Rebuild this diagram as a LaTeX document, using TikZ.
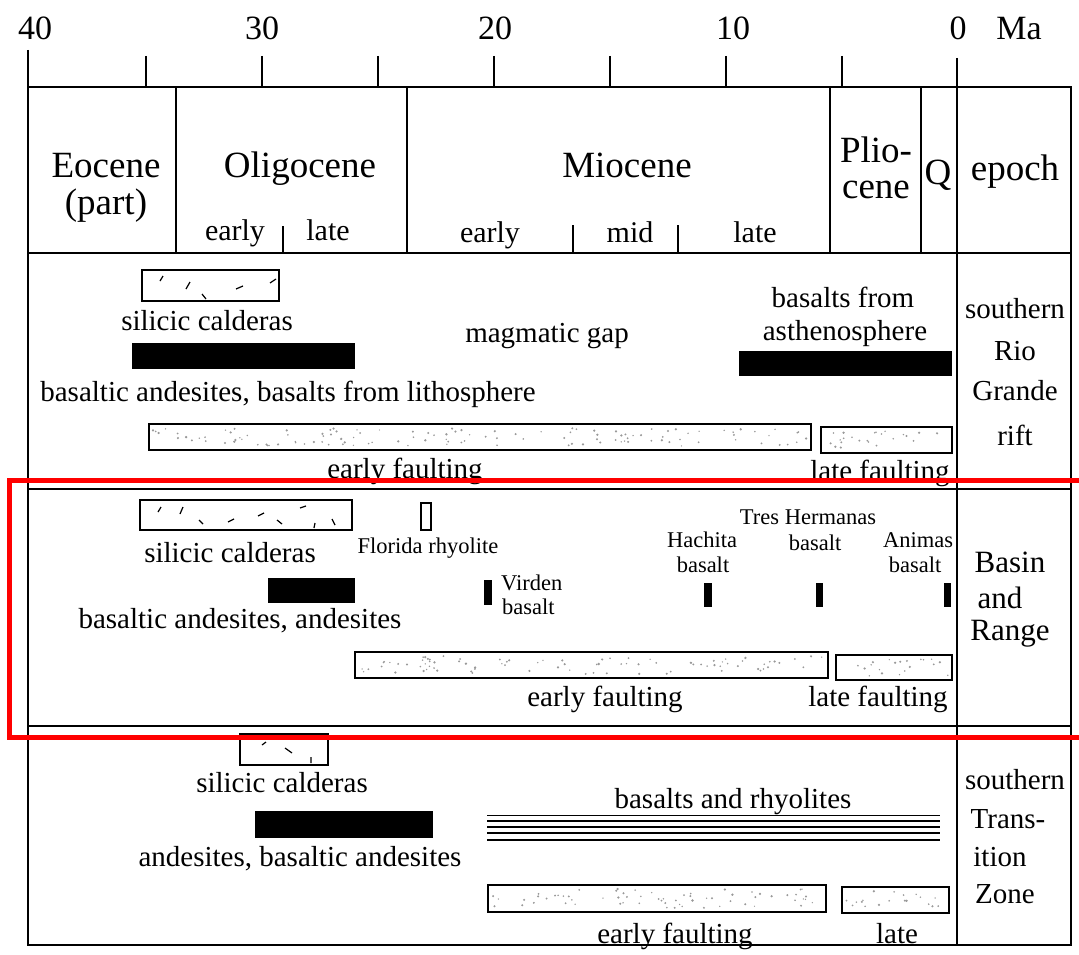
\documentclass[tikz,border=0pt]{standalone}
\usepackage{fontspec}
\setmainfont{Liberation Serif}
\newcommand\fsz[1]{\fontsize{#1}{#1}\selectfont}
\newcommand\stipplebox[4]{%
  \pgfmathtruncatemacro\ndots{((#3-#1)/10)*((#4-#2)/14)}%
  \foreach \k in {1,...,\ndots}{%
    \pgfmathsetmacro\xx{#1+4+rnd*(#3-#1-8)}%
    \pgfmathsetmacro\yy{#2+4+rnd*(#4-#2-8)}%
    \pgfmathsetmacro\rr{0.7+0.6*rnd}%
    \fill[black!40] (\xx,\yy) circle (\rr pt);
  }%
  \draw[outl] (#1,#2) rectangle (#3,#4);
}
\begin{document}
\begin{tikzpicture}[x=1pt,y=-1pt,
  frame/.style={line width=2.4pt},
  outl/.style={line width=2.2pt},
  tick/.style={line width=2.2pt},
  hatch/.style={line width=1.2pt},
  txt/.style={inner sep=0pt, anchor=base, font=\fsz{29}},
  small/.style={inner sep=0pt, anchor=base, font=\fsz{22.5}},
  axis/.style={inner sep=0pt, anchor=base, font=\fsz{34}},
  epo/.style={inner sep=0pt, anchor=base, font=\fsz{37}},
  sub/.style={inner sep=0pt, anchor=base, font=\fsz{30}}]
\useasboundingbox (0,0) rectangle (1079,955);
\pgfmathsetseed{7}

% ---------- axis ----------
\node[axis] (a40) at (35,40) {40};
\node[axis] (a30) at (262,40) {30};
\node[axis] (a20) at (495,40) {20};
\node[axis] (a10) at (733,40) {10};
\node[axis] (a0) at (958,40) {0};
\node[axis] (ama) at (1019,40) {Ma};
\foreach \x in {146,262,378,494,610,726,842}{\draw[tick] (\x,56) -- (\x,87);}

% ---------- frame ----------
\draw[frame] (28,50) -- (28,945) -- (1071,945) -- (1071,87) -- (28,87);
\draw[frame] (957,58) -- (957,945);
\draw[frame] (28,253) -- (1071,253);
\draw[frame] (28,489) -- (1071,489);
\draw[frame] (28,726) -- (1071,726);
\foreach \x in {176,407,830,921}{\draw[frame] (\x,87) -- (\x,253);}
\draw[tick] (283,226) -- (283,253);
\draw[tick] (573,225) -- (573,253);
\draw[tick] (678,225) -- (678,253);

% ---------- epoch row ----------
\node[epo] (eoc) at (106,177) {Eocene};
\node[epo] (eocp) at (106,214) {(part)};
\node[epo] (oli) at (300,177) {Oligocene};
\node[sub] (olie) at (235,240) {early};
\node[sub] (olil) at (328,240) {late};
\node[epo] (mio) at (627,177) {Miocene};
\node[sub] (mioe) at (490,242) {early};
\node[sub] (miom) at (630,242) {mid};
\node[sub] (miol) at (755,242) {late};
\node[epo] (pli1) at (876,162) {Plio-};
\node[epo] (pli2) at (876,198) {cene};
\node[epo] (qq) at (938,185) {Q};
\node[epo] (epoch) at (1015,180) {epoch};

% ---------- row 1: southern Rio Grande rift ----------
\draw[outl] (142,270) rectangle (279,301);
\draw[hatch] (160,281) -- ++(3,-5) (186,289) -- ++(4,-7) (202,294) -- ++(4,5)
  (236,289) -- ++(7,-3) (270,283) -- ++(6,-4);
\node[txt] (r1sc) at (207,330) {silicic calderas};
\fill (132,343) rectangle (355,369);
\node[txt] (r1ba) at (288,401) {basaltic andesites, basalts from lithosphere};
\node[txt] (r1gap) at (547,342) {magmatic gap};
\node[txt] (r1bf) at (843,307) {basalts from};
\node[txt] (r1as) at (845,340) {asthenosphere};
\fill (739,351) rectangle (952,376);
\stipplebox{149}{424}{811}{450}
\stipplebox{821}{427}{952}{453}
\node[txt] (r1ef) at (405,478) {early faulting};
\node[txt] (r1lf) at (880,480) {late faulting};
\node[txt] (r1n1) at (1015,318) {southern};
\node[txt] (r1n2) at (1015,360) {Rio};
\node[txt] (r1n3) at (1015,400) {Grande};
\node[txt] (r1n4) at (1015,445) {rift};

% ---------- row 2: Basin and Range ----------
\draw[outl] (140,500) rectangle (352,530);
\draw[hatch] (158,512) -- ++(3,-5) (180,514) -- ++(3,-7) (199,520) -- ++(4,4)
  (228,522) -- ++(6,-3) (258,516) -- ++(6,-3) (277,520) -- ++(5,4)
  (300,508) -- ++(6,-2) (314,528) -- ++(1,-5) (332,519) -- ++(3,6);
\draw[line width=2pt] (421,503) rectangle (431,530);
\node[txt] (r2sc) at (230,562) {silicic calderas};
\node[small] (r2fr) at (428,553) {Florida rhyolite};
\fill (268,578) rectangle (355,603);
\node[txt] (r2ba) at (240,628) {basaltic andesites, andesites};
\fill (484,580) rectangle (492,605);
\node[small, anchor=base west] (r2v1) at (501,590) {Virden};
\node[small, anchor=base west] (r2v2) at (502,614) {basalt};
\node[small] (r2h1) at (702,547) {Hachita};
\node[small] (r2h2) at (703,572) {basalt};
\fill (704,583) rectangle (712,607);
\node[small] (r2t1) at (808,524) {Tres Hermanas};
\node[small] (r2t2) at (815,550) {basalt};
\fill (816,583) rectangle (823,607);
\node[small] (r2a1) at (918,547) {Animas};
\node[small] (r2a2) at (915,572) {basalt};
\fill (944,583) rectangle (951,607);
\stipplebox{355}{652}{828}{678}
\stipplebox{836}{655}{952}{680}
\node[txt] (r2ef) at (605,706) {early faulting};
\node[txt] (r2lf) at (878,706) {late faulting};
\node[epo,font=\fsz{31}] (r2n1) at (1010,572) {Basin};
\node[epo,font=\fsz{31}] (r2n2) at (1000,608) {and};
\node[epo,font=\fsz{31}] (r2n3) at (1010,640) {Range};

% ---------- row 3: southern Transition Zone ----------
\draw[outl] (240,734) rectangle (328,765);
\draw[hatch] (262,745) -- ++(4,-3) (285,748) -- ++(7,5) (311,757) -- ++(0,6);
\node[txt] (r3sc) at (282,792) {silicic calderas};
\fill (255,811) rectangle (433,838);
\node[txt] (r3ab) at (300,866) {andesites, basaltic andesites};
\node[txt] (r3br) at (733,808) {basalts and rhyolites};
\draw[line width=1pt] (487,815) -- (940,815);
\draw[line width=1.2pt] (487,821) -- (940,821);
\draw[line width=1.2pt] (487,827) -- (940,827);
\draw[line width=2pt] (487,833) -- (940,833);
\draw[line width=1.2pt] (487,840) -- (940,840);
\stipplebox{488}{885}{826}{912}
\stipplebox{842}{887}{949}{913}
\node[txt] (r3ef) at (675,943) {early faulting};
\node[txt] (r3lf) at (897,943) {late};
\node[txt] (r3n1) at (1015,789) {southern};
\node[txt] (r3n2) at (1008,828) {Trans-};
\node[txt] (r3n3) at (1000,866) {ition};
\node[txt] (r3n4) at (1005,903) {Zone};

% ---------- red highlight ----------
\draw[red, line width=5pt] (1090,480) -- (9,480) -- (9,737) -- (1090,737);
\end{tikzpicture}
\end{document}
